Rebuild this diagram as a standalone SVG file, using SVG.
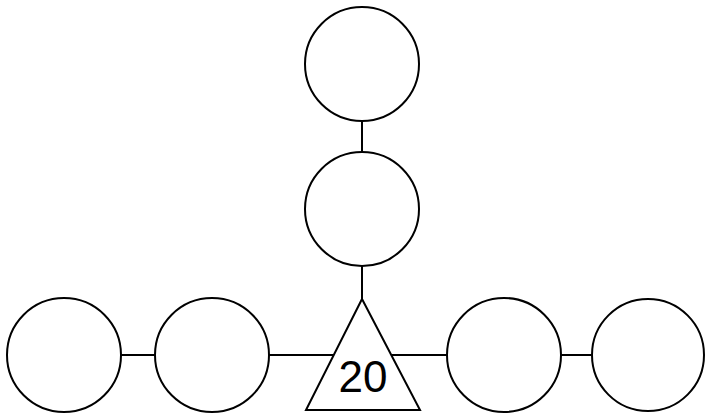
<svg xmlns="http://www.w3.org/2000/svg" width="705" height="415" viewBox="0 0 705 415">
<style>
.n{fill:#fff;stroke:#000;stroke-width:2}
.e{stroke:#000;stroke-width:2;fill:none}
.t{font-family:"Liberation Sans",Arial,sans-serif;font-size:44px;fill:#000;text-anchor:middle}
</style>
<rect width="705" height="415" fill="#fff"/>
<g id="edges">
<line class="e" x1="362" y1="121" x2="362" y2="152"/>
<line class="e" x1="362" y1="266" x2="362" y2="299"/>
<line class="e" x1="121" y1="355" x2="155" y2="355"/>
<line class="e" x1="269" y1="355" x2="334" y2="355"/>
<line class="e" x1="392" y1="355" x2="447" y2="355"/>
<line class="e" x1="561" y1="355" x2="591" y2="355"/>
</g>
<g id="n1"><circle class="n" cx="362" cy="64" r="57"/></g>
<g id="n2"><circle class="n" cx="362" cy="209" r="57"/></g>
<g id="n3"><circle class="n" cx="64" cy="355" r="57"/></g>
<g id="n4"><circle class="n" cx="212" cy="355" r="57"/></g>
<g id="n5"><circle class="n" cx="504" cy="355" r="57"/></g>
<g id="n6"><circle class="n" cx="648" cy="355" r="56"/></g>
<g id="center"><polygon class="n" points="362,299 306,410 420,410"/><text class="t" x="363" y="392">20</text></g>
</svg>
